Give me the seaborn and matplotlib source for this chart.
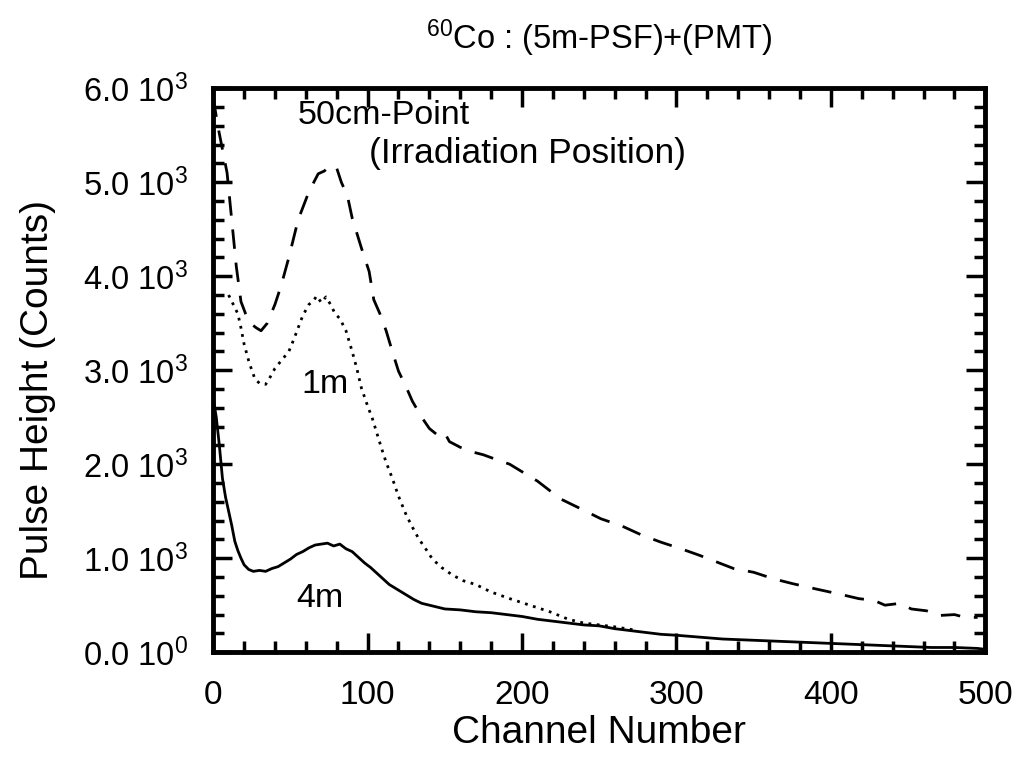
import matplotlib
matplotlib.use("Agg")
import matplotlib.pyplot as plt
import numpy as np
import pandas as pd
import seaborn as sns
from matplotlib.ticker import MultipleLocator, FixedLocator

# ---------------- data ----------------
ch_50cm = [0, 3, 6, 9, 12, 15, 18, 21, 24, 28, 31, 35, 40, 44, 49, 55, 62, 68, 72, 76,
           80, 83, 87, 90, 96, 101, 104, 108, 112, 116, 120, 125, 129, 135, 140, 146, 150, 153, 160, 168,
           175, 185, 192, 200, 210, 225, 235, 251, 265, 277, 290, 303, 315, 337, 350, 363, 375, 391, 405, 418,
           428, 435, 445, 452, 462, 470, 480, 487, 495]
val_50cm = [5900, 5600, 5350, 5100, 4600, 4100, 3730, 3600, 3500, 3450, 3420, 3500, 3700, 3900, 4200, 4600, 4900, 5090, 5120, 5180,
            5150, 5000, 4850, 4620, 4300, 4050, 3750, 3600, 3420, 3200, 2990, 2820, 2670, 2500, 2380, 2300, 2330, 2240, 2180, 2130,
            2100, 2040, 2000, 1920, 1820, 1630, 1550, 1420, 1340, 1250, 1170, 1100, 1030, 890, 850, 780, 730, 670, 620, 570,
            550, 500, 520, 460, 440, 390, 400, 370, 370]

ch_1m = [10, 13, 16, 18, 20, 23, 25, 27, 30, 34, 37, 40, 44, 49, 52, 55, 58, 62, 65, 67,
         70, 73, 76, 79, 82, 86, 90, 93, 96, 100, 103, 106, 109, 112, 116, 120, 125, 129, 133, 138,
         142, 148, 155, 162, 170, 180, 192, 205, 218, 230, 240, 250, 260, 275]
val_1m = [3800, 3700, 3600, 3450, 3280, 3100, 3000, 2910, 2860, 2850, 2930, 3020, 3100, 3200, 3320, 3450, 3580, 3700, 3740, 3790,
          3720, 3780, 3700, 3600, 3550, 3420, 3200, 3020, 2810, 2620, 2490, 2330, 2170, 2020, 1850, 1660, 1460, 1330, 1210, 1090,
          990, 900, 820, 760, 720, 640, 570, 500, 430, 350, 310, 290, 270, 230]

ch_4m = [0, 2, 4, 6, 8, 10, 12, 14, 16, 18, 20, 23, 26, 30, 34, 38, 42, 46, 50, 54,
         58, 62, 66, 70, 74, 78, 82, 86, 90, 94, 98, 102, 106, 110, 114, 118, 122, 126, 130, 135,
         140, 145, 150, 160, 170, 180, 190, 200, 210, 220, 230, 240, 250, 260, 270, 280, 290, 300, 315, 330,
         345, 360, 375, 390, 405, 420, 435, 450, 465, 480, 495, 500]
val_4m = [2700, 2500, 2200, 1850, 1650, 1500, 1350, 1180, 1080, 1000, 930, 880, 860, 870, 860, 890, 910, 950, 990, 1040,
          1070, 1110, 1140, 1150, 1160, 1130, 1150, 1100, 1070, 1010, 950, 900, 840, 780, 720, 680, 640, 600, 560, 520,
          500, 480, 460, 450, 430, 420, 400, 380, 350, 330, 310, 290, 280, 250, 230, 210, 190, 180, 160, 140,
          130, 120, 110, 100, 90, 80, 70, 60, 50, 50, 40, 30]

series_names = ["50cm", "1m", "4m"]
x_ticks = [0, 100, 200, 300, 400, 500]
y_ticks = [0, 1000, 2000, 3000, 4000, 5000, 6000]
y_tick_labels = ["0.0 10$^{0}$", "1.0 10$^{3}$", "2.0 10$^{3}$", "3.0 10$^{3}$",
                 "4.0 10$^{3}$", "5.0 10$^{3}$", "6.0 10$^{3}$"]

# ---------------- frame ----------------
frames = []
for name, xs, ys in [("50cm", ch_50cm, val_50cm), ("1m", ch_1m, val_1m), ("4m", ch_4m, val_4m)]:
    assert len(xs) == len(ys), name
    frames.append(pd.DataFrame({"Channel": xs, "Counts": ys, "series": name}))
df = pd.concat(frames, ignore_index=True)

sns.set_style("ticks")
plt.rcParams["font.family"] = ["Liberation Sans", "DejaVu Sans"]
plt.rcParams["mathtext.fontset"] = "custom"
plt.rcParams["mathtext.rm"] = "Liberation Sans"
plt.rcParams["mathtext.it"] = "Liberation Sans"
plt.rcParams["mathtext.bf"] = "Liberation Sans:bold"
plt.rcParams["text.color"] = "black"
plt.rcParams["axes.labelcolor"] = "black"

fig = plt.figure(figsize=(10.2, 7.61), dpi=100)
ax = fig.add_axes([0.209, 0.143, 0.757, 0.741])

sns.lineplot(data=df, x="Channel", y="Counts", hue="series", style="series",
             hue_order=series_names, style_order=series_names,
             palette={"50cm": "black", "1m": "black", "4m": "black"},
             dashes={"50cm": (7, 5), "1m": (1, 2), "4m": ""},
             linewidth=2.0, estimator=None, sort=False,
             legend=False, ax=ax)

for line in ax.get_lines():
    line.set_solid_capstyle("butt")

ax.set_xlim(0, 500)
ax.set_ylim(0, 6000)
ax.xaxis.set_major_locator(FixedLocator(x_ticks))
ax.xaxis.set_minor_locator(MultipleLocator(20))
ax.yaxis.set_major_locator(FixedLocator(y_ticks))
ax.yaxis.set_minor_locator(MultipleLocator(200))
ax.set_yticklabels(y_tick_labels)
ax.set_xticklabels([str(v) for v in x_ticks])

ax.tick_params(which="both", direction="in", top=True, right=True, colors="black")
ax.tick_params(axis="x", labelsize=24)
ax.tick_params(axis="y", labelsize=23.5)
ax.tick_params(which="major", length=14, width=2.5)
ax.tick_params(which="minor", length=8, width=2.5)
ax.tick_params(axis="x", which="major", pad=20)
ax.tick_params(axis="y", which="major", pad=18)
for sp in ax.spines.values():
    sp.set_visible(True)
    sp.set_linewidth(3.5)
    sp.set_color("black")

ax.set_xlabel("Channel Number", fontsize=28, labelpad=3)
ax.set_ylabel("Pulse Height (Counts)", fontsize=28, labelpad=20)
ax.yaxis.label.set_y(0.465)
ax.set_title("$^{60}$Co : (5m-PSF)+(PMT)", fontsize=23.5, pad=28)

ax.text(55, 5710, "50cm-Point", fontsize=24.5, va="center", ha="left")
ax.text(101, 5310, "(Irradiation Position)", fontsize=25.5, va="center", ha="left")
ax.text(57, 2850, "1m", fontsize=24.5, va="center", ha="left")
ax.text(54, 570, "4m", fontsize=24.5, va="center", ha="left")

fig.savefig("out.png", dpi=100)
